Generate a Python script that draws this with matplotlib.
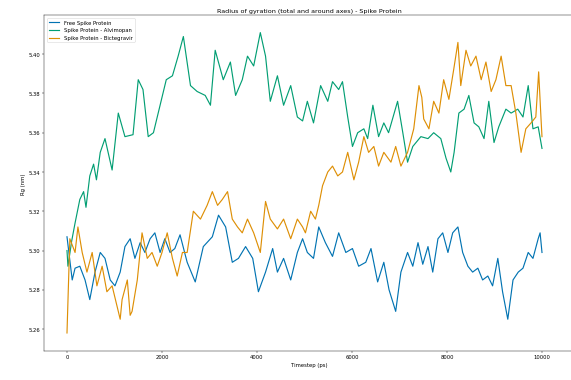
import matplotlib
matplotlib.use("Agg")
import matplotlib.pyplot as plt

# ---- data ----
t_free = [0, 110, 170, 270, 380, 480, 590, 700, 800, 910, 1010, 1120, 1220, 1330, 1430, 1540, 1640,
          1750, 1850, 1960, 2060, 2170, 2270, 2380, 2530, 2700, 2870, 3060, 3190, 3340, 3480, 3610,
          3760, 3910, 4030, 4180, 4330, 4430, 4560, 4710, 4850, 4960, 5060, 5190, 5300, 5440, 5590,
          5720, 5870, 6010, 6140, 6290, 6400, 6540, 6670, 6780, 6920, 7030, 7170, 7280, 7390, 7490,
          7600, 7700, 7810, 7910, 8020, 8120, 8230, 8330, 8440, 8540, 8650, 8750, 8860, 8960, 9070,
          9170, 9280, 9390, 9500, 9600, 9710, 9810, 9920, 9960, 10000]
rg_free = [5.307, 5.285, 5.291, 5.292, 5.285, 5.275, 5.289, 5.299, 5.296, 5.285, 5.282, 5.289, 5.302,
           5.306, 5.296, 5.304, 5.299, 5.306, 5.309, 5.299, 5.306, 5.299, 5.301, 5.308, 5.294, 5.284,
           5.302, 5.307, 5.318, 5.312, 5.294, 5.296, 5.302, 5.296, 5.279, 5.289, 5.301, 5.289, 5.296,
           5.285, 5.299, 5.306, 5.299, 5.296, 5.312, 5.304, 5.297, 5.309, 5.299, 5.301, 5.292, 5.294,
           5.301, 5.284, 5.294, 5.280, 5.269, 5.289, 5.299, 5.292, 5.304, 5.293, 5.302, 5.289, 5.306,
           5.309, 5.299, 5.309, 5.312, 5.299, 5.292, 5.289, 5.291, 5.285, 5.287, 5.282, 5.296, 5.279,
           5.265, 5.285, 5.289, 5.291, 5.299, 5.296, 5.306, 5.309, 5.299]

t_alv = [0, 20, 100, 170, 270, 350, 400, 480, 560, 620, 700, 800, 950, 1080, 1220, 1390, 1500, 1600,
         1710, 1820, 1960, 2090, 2220, 2340, 2450, 2600, 2740, 2910, 3020, 3120, 3290, 3440, 3550,
         3690, 3800, 3930, 4070, 4180, 4280, 4430, 4560, 4710, 4850, 4960, 5060, 5190, 5340, 5490,
         5590, 5720, 5800, 5910, 6010, 6120, 6250, 6330, 6440, 6560, 6670, 6770, 6960, 7070, 7170,
         7280, 7450, 7600, 7720, 7870, 7980, 8080, 8150, 8250, 8360, 8460, 8570, 8670, 8780, 8880,
         8990, 9090, 9240, 9350, 9490, 9600, 9710, 9810, 9920, 10000]
rg_alv = [5.300, 5.292, 5.305, 5.314, 5.326, 5.330, 5.322, 5.338, 5.344, 5.336, 5.350, 5.357, 5.341,
          5.370, 5.358, 5.359, 5.387, 5.382, 5.358, 5.360, 5.374, 5.387, 5.389, 5.399, 5.409, 5.384,
          5.381, 5.379, 5.374, 5.402, 5.387, 5.396, 5.379, 5.387, 5.399, 5.394, 5.411, 5.399, 5.376,
          5.389, 5.374, 5.384, 5.368, 5.366, 5.376, 5.365, 5.384, 5.376, 5.386, 5.382, 5.386, 5.368,
          5.353, 5.360, 5.362, 5.357, 5.374, 5.358, 5.365, 5.360, 5.376, 5.360, 5.345, 5.353, 5.358,
          5.357, 5.360, 5.357, 5.347, 5.340, 5.350, 5.370, 5.372, 5.379, 5.365, 5.363, 5.357, 5.376,
          5.355, 5.363, 5.372, 5.370, 5.372, 5.368, 5.384, 5.362, 5.363, 5.352]

t_bic = [0, 60, 170, 230, 320, 420, 530, 630, 740, 840, 950, 1050, 1120, 1160, 1270, 1330, 1370,
         1480, 1580, 1690, 1790, 1900, 2000, 2110, 2220, 2320, 2430, 2530, 2660, 2810, 2950, 3060,
         3170, 3270, 3380, 3480, 3590, 3690, 3800, 3930, 4070, 4180, 4280, 4430, 4560, 4710, 4850,
         4960, 5020, 5130, 5230, 5300, 5380, 5490, 5590, 5700, 5800, 5910, 6040, 6140, 6250, 6350,
         6460, 6560, 6670, 6820, 6920, 7030, 7170, 7300, 7410, 7470, 7510, 7620, 7720, 7830, 7930,
         8040, 8140, 8230, 8290, 8400, 8500, 8610, 8720, 8820, 8930, 9030, 9140, 9240, 9350, 9450,
         9560, 9660, 9770, 9870, 9930, 9980, 10000]
rg_bic = [5.258, 5.306, 5.299, 5.312, 5.299, 5.289, 5.299, 5.282, 5.292, 5.279, 5.282, 5.272, 5.265,
          5.275, 5.285, 5.267, 5.269, 5.285, 5.309, 5.296, 5.299, 5.292, 5.299, 5.309, 5.296, 5.287,
          5.299, 5.299, 5.320, 5.316, 5.323, 5.330, 5.323, 5.326, 5.330, 5.316, 5.312, 5.309, 5.316,
          5.309, 5.299, 5.325, 5.316, 5.311, 5.316, 5.306, 5.316, 5.312, 5.309, 5.320, 5.316, 5.323,
          5.333, 5.340, 5.343, 5.338, 5.340, 5.350, 5.336, 5.345, 5.358, 5.350, 5.353, 5.343, 5.350,
          5.345, 5.353, 5.343, 5.350, 5.362, 5.384, 5.378, 5.367, 5.362, 5.376, 5.370, 5.387, 5.377,
          5.392, 5.406, 5.384, 5.402, 5.394, 5.399, 5.387, 5.396, 5.381, 5.387, 5.399, 5.384, 5.384,
          5.370, 5.350, 5.362, 5.365, 5.368, 5.391, 5.367, 5.358]

labels = ["Free Spike Protein", "Spike Protein - Alvimopan", "Spike Protein - Bictegravir"]
colors = ["#0173b2", "#029e73", "#de8f05"]

fig = plt.figure(figsize=(15, 10), dpi=571 / 15)
ax = fig.add_axes([44 / 571, 29 / 381, 531 / 571, 336 / 381])

ax.plot(t_free, rg_free, color=colors[0], label=labels[0], lw=2.2)
ax.plot(t_alv, rg_alv, color=colors[1], label=labels[1], lw=2.2)
ax.plot(t_bic, rg_bic, color=colors[2], label=labels[2], lw=2.2)

ax.set_xlim(-484, 10695)
ax.set_ylim(5.2488, 5.4198)
ax.set_xticks([0, 2000, 4000, 6000, 8000, 10000])
ax.set_yticks([5.26, 5.28, 5.30, 5.32, 5.34, 5.36, 5.38, 5.40])
ax.set_title("Radius of gyration (total and around axes) - Spike Protein")
ax.set_xlabel("Timestep (ps)")
ax.set_ylabel("Rg (nm)")
ax.legend(loc="upper left")

fig.savefig("out.png", dpi=571 / 15)
